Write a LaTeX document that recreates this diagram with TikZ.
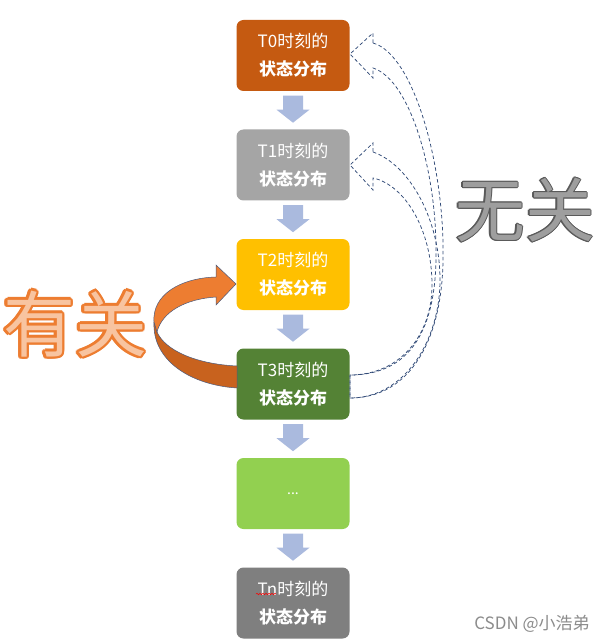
\documentclass[tikz,border=0pt]{standalone}
\usepackage{fontspec}
\setmainfont{Noto Sans CJK SC}
\usetikzlibrary{calc,decorations.pathmorphing}
\definecolor{ct0}{RGB}{197,90,17}
\definecolor{ct1}{RGB}{165,165,165}
\definecolor{ct2}{RGB}{255,192,0}
\definecolor{ct3}{RGB}{84,130,53}
\definecolor{cdots}{RGB}{146,208,80}
\definecolor{ctn}{RGB}{127,127,127}
\definecolor{arrowblue}{RGB}{170,186,222}
\definecolor{dashblue}{RGB}{50,75,120}
\definecolor{orlight}{RGB}{237,125,49}
\definecolor{ordark}{RGB}{200,98,30}
\definecolor{orline}{RGB}{75,90,125}
\definecolor{peach}{RGB}{248,196,160}
\definecolor{wgfill}{RGB}{158,158,158}
\definecolor{wgline}{RGB}{90,90,90}
\definecolor{wmark}{RGB}{140,140,140}
\begin{document}
\begin{tikzpicture}[x=1pt,y=-1pt,
  statebox/.style={rounded corners=7pt, minimum width=113pt, minimum height=71pt,
    inner sep=0pt, align=center, text=white, font=\fontsize{17}{28}\selectfont},
  downarrow/.pic={\fill[arrowblue] (-10,0) -- (10,0) -- (10,14) -- (16.5,14) -- (0,27) -- (-16.5,14) -- (-10,14) -- cycle;},
  dasharrow/.style={draw=dashblue, line width=0.75pt, dash pattern=on 3.5pt off 2.5pt},
  orbody/.style={line width=0.5pt, draw=orline},
  bigyg/.style={inner sep=0pt, font=\fontsize{72}{72}\selectfont},
  bigwg/.style={inner sep=0pt, font=\fontsize{70}{70}\selectfont}
]
\useasboundingbox (0,0) rectangle (612,644);
\fill[white] (0,0) rectangle (612,644);

% state boxes
\node[statebox, fill=ct0] (t0) at (293,55.5) {T0时刻的\\\bfseries 状态分布};
\node[statebox, fill=ct1] (t1) at (293,165) {T1时刻的\\\bfseries 状态分布};
\node[statebox, fill=ct2] (t2) at (293,274.5) {T2时刻的\\\bfseries 状态分布};
\node[statebox, fill=ct3] (t3) at (293,384) {T3时刻的\\\bfseries 状态分布};
\node[statebox, fill=cdots, font=\fontsize{14}{28}\selectfont] (td) at (293,493.5) {...};
\node[statebox, fill=ctn] (tn) at (293,603) {Tn时刻的\\\bfseries 状态分布};

% spell-check squiggle under Tn
\draw[red, line width=0.5pt, decorate, decoration={snake, amplitude=0.8pt, segment length=3pt}] (256,594) -- (276,594);

% block arrows between boxes
\pic at ($(t0.south)+(0,4.5)$) {downarrow};
\pic at ($(t1.south)+(0,4.5)$) {downarrow};
\pic at ($(t2.south)+(0,4.5)$) {downarrow};
\pic at ($(t3.south)+(0,4.5)$) {downarrow};
\pic at ($(td.south)+(0,4.5)$) {downarrow};

% dashed curved arrows from T3 to T0 and T1
\draw[dasharrow] (373,43) .. controls (415,55) and (445,170) .. (443,260)
  .. controls (442,340) and (410,398) .. (350,398) -- (350,375)
  .. controls (410,375) and (437,330) .. (436,250)
  .. controls (436,170) and (410,80) .. (373,68)
  -- (373,78) -- (350,54) -- (373,33) -- cycle;
\draw[dasharrow] (373,152) .. controls (410,165) and (440,220) .. (440,280)
  .. controls (440,340) and (405,398) .. (350,398) -- (350,375)
  .. controls (400,375) and (432,335) .. (432,285)
  .. controls (432,230) and (405,185) .. (373,178)
  -- (373,190) -- (350,165) -- (373,143) -- cycle;

% orange curved arrow from T3 to T2
\filldraw[orbody, fill=ordark] (154,322) .. controls (152,360) and (190,385) .. (237,388)
  -- (237,366) .. controls (195,364) and (165,350) .. (157,332) -- cycle;
\filldraw[orbody, fill=orlight] (154,322) .. controls (152,295) and (180,278) .. (216,277)
  -- (216,265) -- (236,284) -- (216,305) -- (216,297)
  .. controls (185,299) and (162,312) .. (157,332) -- cycle;

% big text 有关 (orange outline, peach fill)
\foreach \a in {0,30,...,330} {
  \node[bigyg, text=orlight] (ygo\a) at ($(75,324)+(\a:2.5)$) {有关};
}
\node[bigyg, text=peach] (yg) at (75,324) {有关};

% big text 无关 (dark outline, grey fill)
\foreach \a in {0,45,...,315} {
  \node[bigwg, text=wgline] (wgo\a) at ($(525,210)+(\a:1.3)$) {无关};
}
\node[bigwg, text=wgfill] (wg) at (525,210) {无关};

% watermark
\node[inner sep=0pt, text=wmark, font=\fontsize{17}{17}\selectfont] (wm) at (532,624) {CSDN @小浩弟};
\end{tikzpicture}
\end{document}
